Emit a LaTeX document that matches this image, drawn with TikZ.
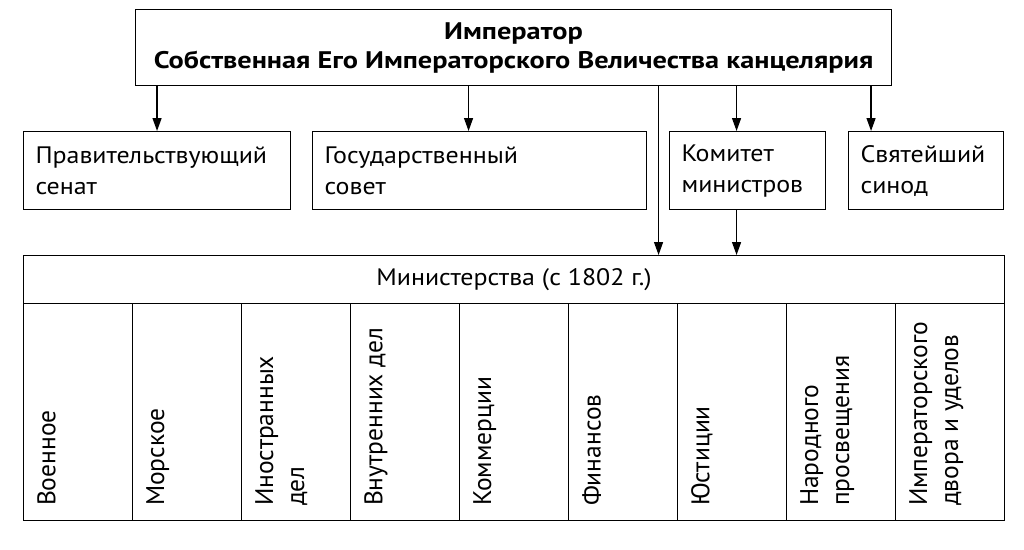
\documentclass[tikz,border=0pt]{standalone}
\usepackage{fontspec}
\setmainfont{PT Sans}
\newfontfamily\hfont[FakeStretch=1.09]{PT Sans}
\newfontfamily\tfont[FakeStretch=1.18]{PT Sans Bold}
\usetikzlibrary{arrows.meta,calc}
\tikzset{
  box/.style={draw=black, line width=1.1pt, rectangle, inner sep=0pt},
  arr/.style={line width=1.3pt, -{Triangle[length=13pt,width=9pt]}},
  htext/.style={font=\hfont\fontsize{23.8}{31}\selectfont, align=left},
  vtext/.style={font=\fontsize{25.5}{31}\selectfont, align=left, rotate=90, inner sep=0pt, anchor=north west},
}
\begin{document}
\begin{tikzpicture}[x=1pt,y=-1pt]
\useasboundingbox (0,0) rectangle (1024,549);
\fill[white] (0,0) rectangle (1024,549);
% top
\node[box, anchor=north west, minimum width=756pt, minimum height=76pt,
  font=\tfont\fontsize{24}{29}\selectfont, align=center] (top) at (135,9)
  {Император\\Собственная Его Императорского Величества канцелярия};
% second row
\node[box, htext, anchor=north west, minimum width=267pt, minimum height=78pt,
  text width=243pt, inner sep=12pt] (sen) at (23,131) {Правительствующий\\сенат};
\node[box, htext, anchor=north west, minimum width=334pt, minimum height=78pt,
  text width=310pt, inner sep=12pt] (sov) at (312,131) {Государственный\\совет};
\node[box, htext, anchor=north west, minimum width=156pt, minimum height=78pt,
  text width=132pt, inner sep=12pt] (kom) at (669,131) {Комитет\\министров};
\node[box, htext, anchor=north west, minimum width=155pt, minimum height=78pt,
  text width=131pt, inner sep=12pt] (sin) at (848,131) {Святейший\\синод};
% ministries
\node[box, anchor=north west, minimum width=981pt, minimum height=48pt,
  font=\hfont\fontsize{23.8}{31}\selectfont] (min) at (23,255) {Министерства (с 1802 г.)};
\foreach \i/\t in {1/Военное,2/Морское,3/{Иностранных\\дел},4/Внутренних дел,5/Коммерции,
  6/Финансов,7/Юстиции,8/{Народного\\просвещения},9/{Императорского\\двора и уделов}}{
  \node[box, anchor=north west, minimum width=109pt, minimum height=217pt]
    (col\i) at ({23+(\i-1)*109},303) {};
  \node[vtext] (m\i) at ([xshift=14pt,yshift=15pt]col\i.south west) {\t};
}
% arrows
\draw[arr] (top.south -| sen.north) -- (sen.north);
\draw[arr] ([xshift=-11pt]sov.north |- top.south) -- ([xshift=-11pt]sov.north);
\draw[arr] ([xshift=-11pt]kom.north |- top.south) -- ([xshift=-11pt]kom.north);
\draw[arr] ([xshift=-55pt]sin.north |- top.south) -- ([xshift=-55pt]sin.north);
\draw[arr] ([xshift=-89pt]kom.north |- top.south) -- ([xshift=-89pt]kom.north |- min.north);
\draw[arr] ([xshift=-11pt]kom.south) -- ([xshift=-11pt]kom.south |- min.north);
\end{tikzpicture}
\end{document}
